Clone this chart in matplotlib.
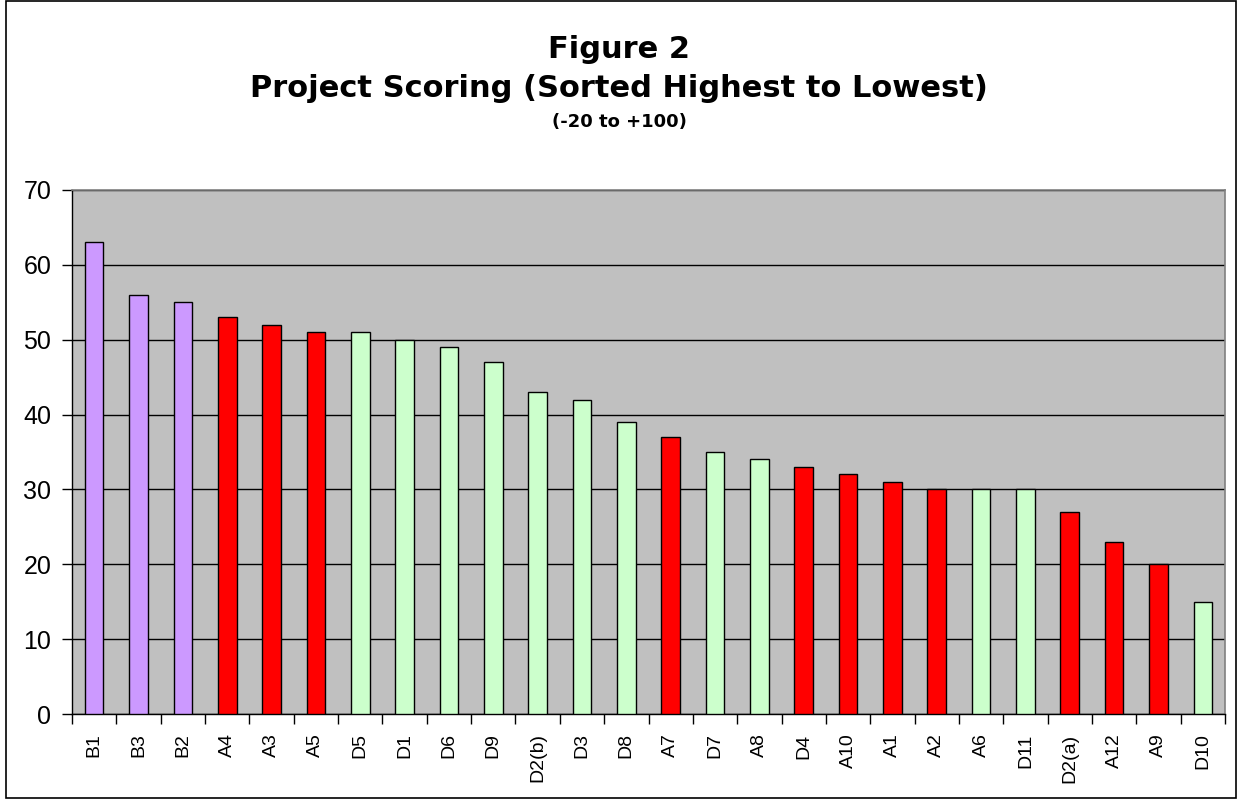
import matplotlib.pyplot as plt
from matplotlib.patches import Rectangle
import numpy as np

# project scores, sorted
projects = ["B1", "B3", "B2", "A4", "A3", "A5", "D5", "D1", "D6", "D9", "D2(b)", "D3", "D8",
            "A7", "D7", "A8", "D4", "A10", "A1", "A2", "A6", "D11", "D2(a)", "A12", "A9", "D10"]
scores = [63, 56, 55, 53, 52, 51, 51, 50, 49, 47, 43, 42, 39,
          37, 35, 34, 33, 32, 31, 30, 30, 30, 27, 23, 20, 15]
groups = ["B", "B", "B", "R", "R", "R", "G", "G", "G", "G", "G", "G", "G",
          "R", "G", "G", "R", "R", "R", "R", "G", "G", "R", "R", "R", "G"]
group_colors = {"B": "#CC99FF", "R": "#FF0000", "G": "#CCFFCC"}

plt.rcParams['font.family'] = ['Liberation Sans', 'DejaVu Sans']

fig = plt.figure(figsize=(12.38, 7.99), dpi=100)
ax = fig.add_axes([72/1238, 1 - 714/799, (1225 - 72)/1238, (714 - 190)/799])

x = np.arange(len(projects))
ax.bar(x, scores, width=0.42, color=[group_colors[g] for g in groups],
       edgecolor="black", linewidth=1.0, zorder=3)

ax.set_facecolor("#C0C0C0")
ax.set_xlim(-0.5, len(projects) - 0.5)
ax.set_ylim(0, 70)
ax.set_yticks(range(0, 71, 10))
ax.yaxis.grid(True, color="black", linewidth=1.0, zorder=1)
ax.set_axisbelow(True)

ax.set_xticks(x)
ax.set_xticklabels(projects, rotation=90, fontsize=14)
ax.set_xticks(np.arange(-0.5, len(projects), 1), minor=True)
ax.tick_params(axis="x", which="major", length=0, pad=14)
ax.tick_params(axis="x", which="minor", length=7, width=1, color="black")
ax.tick_params(axis="y", labelsize=18, length=7, width=1, color="black", pad=8)

for side in ("top", "right"):
    ax.spines[side].set_color("#808080")
    ax.spines[side].set_linewidth(1.2)
for side in ("left", "bottom"):
    ax.spines[side].set_color("black")
    ax.spines[side].set_linewidth(1.0)

# titles
fig.text(0.5, 1 - 58/799, "Figure 2", ha="center", va="baseline",
         fontsize=22, fontweight="bold", family="DejaVu Sans")
fig.text(0.5, 1 - 97/799, "Project Scoring (Sorted Highest to Lowest)", ha="center",
         va="baseline", fontsize=22, fontweight="bold", family="DejaVu Sans")
fig.text(0.5, 1 - 127/799, "(-20 to +100)", ha="center", va="baseline",
         fontsize=13, fontweight="bold", family="DejaVu Sans")

# outer chart border
fig.patches.append(Rectangle((6/1238, 1/799), (1236 - 6)/1238, 797/799,
                             transform=fig.transFigure, fill=False,
                             edgecolor="black", linewidth=1.2))

fig.savefig("out.png", dpi=100)
